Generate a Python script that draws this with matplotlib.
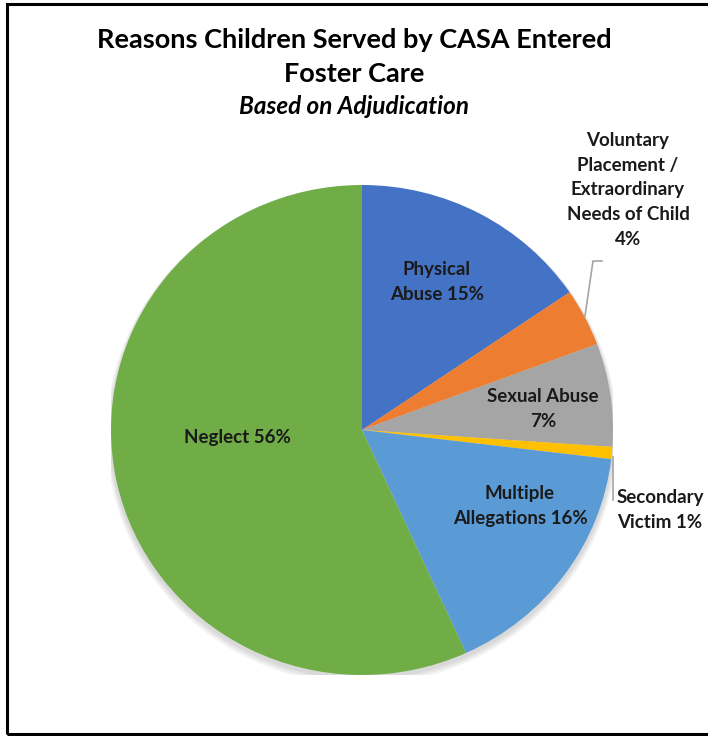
import matplotlib
matplotlib.use("Agg")
import matplotlib.pyplot as plt
from matplotlib.patches import Rectangle, Ellipse
import numpy as np

categories = ["Physical Abuse", "Voluntary Placement / Extraordinary Needs of Child",
              "Sexual Abuse", "Secondary Victim", "Multiple Allegations", "Neglect"]
values = [15.5, 3.8, 6.8, 0.8, 16.3, 56.8]
pct_labels = ["15%", "4%", "7%", "1%", "16%", "56%"]
label_texts = ["Physical\nAbuse 15%",
               "Voluntary\nPlacement /\nExtraordinary\nNeeds of Child\n4%",
               "Sexual Abuse\n7%", "Secondary\nVictim 1%",
               "Multiple\nAllegations 16%", "Neglect 56%"]
colors = ["#4472C4", "#ED7D31", "#A5A5A5", "#FFC000", "#5B9BD5", "#70AD47"]

plt.rcParams['font.family'] = ['Lato', 'DejaVu Sans']

W, H = 708, 736
fig = plt.figure(figsize=(W / 100, H / 100), dpi=100)

cx, cy, rx, ry = 362, 430, 251, 245
ax = fig.add_axes([(cx - rx) / W, 1 - (cy + ry) / H, 2 * rx / W, 2 * ry / H])

# soft shadow
for i, a in enumerate([0.05, 0.05, 0.05]):
    ax.add_patch(Ellipse((0, -0.012 - 0.004 * i), 2 + 0.012 * (i + 1), 2 + 0.012 * (i + 1),
                         facecolor='black', alpha=a, edgecolor='none', zorder=0))

ax.pie(values, colors=colors, startangle=90, counterclock=False, radius=1,
       wedgeprops=dict(linewidth=0, zorder=2))
ax.set_xlim(-1, 1)
ax.set_ylim(-1, 1)
ax.set_aspect('auto')
ax.axis('off')

def to_data(px, py):
    return ((px - cx) / rx, (cy - py) / ry)

positions = [(437, 282), (628, 190), (543, 409), (660, 510), (520, 506), (237, 437)]
for txt, (px, py) in zip(label_texts, positions):
    x, y = to_data(px, py)
    ax.text(x, y, txt, ha='center', va='center', fontsize=13.5, fontweight='bold',
            color='#1a1a1a', linespacing=1.55, clip_on=False, zorder=5)

lx, ly = zip(*[to_data(602, 261), to_data(593, 261), to_data(585, 316)])
ax.plot(lx, ly, color='#A5A5A5', lw=1.2, clip_on=False, zorder=5)
lx, ly = zip(*[to_data(613, 457), to_data(613, 500)])
ax.plot(lx, ly, color='#A5A5A5', lw=1.2, clip_on=False, zorder=5)

fig.text(0.5, 1 - 40 / H, "Reasons Children Served by CASA Entered", ha='center', va='center',
         fontsize=19.5, fontweight='bold', color='black')
fig.text(0.5, 1 - 74 / H, "Foster Care", ha='center', va='center',
         fontsize=19.5, fontweight='bold', color='black')
fig.text(0.5, 1 - 107 / H, "Based on Adjudication", ha='center', va='center',
         fontsize=17.5, fontweight='bold', fontstyle='italic', color='black')

fig.patches.append(Rectangle((7 / W, 2 / H), 1.0, (H - 6) / H, transform=fig.transFigure,
                             fill=False, edgecolor='black', linewidth=2.2))

fig.savefig("out.png", dpi=100)
